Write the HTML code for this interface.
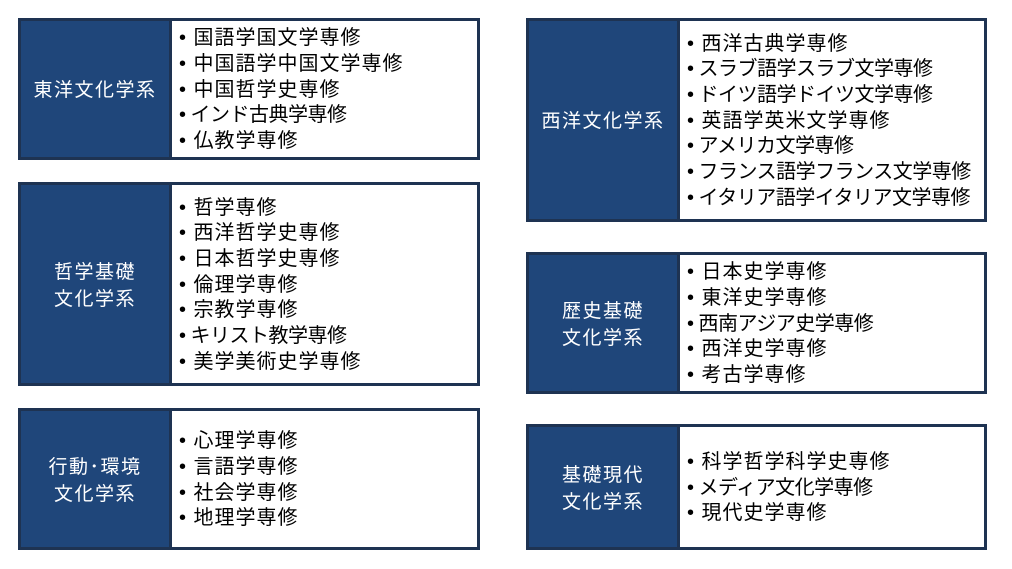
<!DOCTYPE html><html><head><meta charset="utf-8"><style>
body{margin:0;width:1012px;height:569px;background:#fff;position:relative;font-family:"Liberation Sans","Noto Sans CJK JP",sans-serif;overflow:hidden}
.b{position:absolute;box-sizing:border-box;border:3px solid #1e3352;background:#fff;display:flex}
.l{width:151px;background:#1f467a;color:#fff;font-size:19px;letter-spacing:1.5px;display:flex;align-items:center;justify-content:center;text-align:center;line-height:27px;border-right:3px solid #1e3352;flex:none;padding-top:3px;box-sizing:border-box}
.r{display:flex;flex-direction:column;justify-content:center;padding-left:7px;padding-top:3px;font-size:20px;letter-spacing:1px;line-height:25.7px;color:#000;white-space:nowrap}
.k{letter-spacing:-0.5px}
</style></head><body>
<div class="b" style="left:18px;top:18px;width:462px;height:142px"><div class="l">東洋文化学系</div><div class="r"><div>• 国語学国文学専修</div><div>• 中国語学中国文学専修</div><div>• 中国哲学史専修</div><div class="k">• インド古典学専修</div><div>• 仏教学専修</div></div></div>
<div class="b" style="left:18px;top:182px;width:462px;height:204px"><div class="l">哲学基礎<br>文化学系</div><div class="r"><div>• 哲学専修</div><div>• 西洋哲学史専修</div><div>• 日本哲学史専修</div><div>• 倫理学専修</div><div>• 宗教学専修</div><div class="k">• キリスト教学専修</div><div>• 美学美術史学専修</div></div></div>
<div class="b" style="left:18px;top:408px;width:462px;height:142px"><div class="l">行動･環境<br>文化学系</div><div class="r"><div>• 心理学専修</div><div>• 言語学専修</div><div>• 社会学専修</div><div>• 地理学専修</div></div></div>
<div class="b" style="left:526px;top:18px;width:461px;height:204px"><div class="l">西洋文化学系</div><div class="r"><div>• 西洋古典学専修</div><div class="k">• スラブ語学スラブ文学専修</div><div class="k">• ドイツ語学ドイツ文学専修</div><div>• 英語学英米文学専修</div><div class="k">• アメリカ文学専修</div><div class="k">• フランス語学フランス文学専修</div><div class="k">• イタリア語学イタリア文学専修</div></div></div>
<div class="b" style="left:526px;top:252px;width:461px;height:142px"><div class="l">歴史基礎<br>文化学系</div><div class="r"><div>• 日本史学専修</div><div>• 東洋史学専修</div><div class="k">• 西南アジア史学専修</div><div>• 西洋史学専修</div><div>• 考古学専修</div></div></div>
<div class="b" style="left:526px;top:424px;width:461px;height:126px"><div class="l">基礎現代<br>文化学系</div><div class="r"><div>• 科学哲学科学史専修</div><div class="k">• メディア文化学専修</div><div>• 現代史学専修</div></div></div>
</body></html>
